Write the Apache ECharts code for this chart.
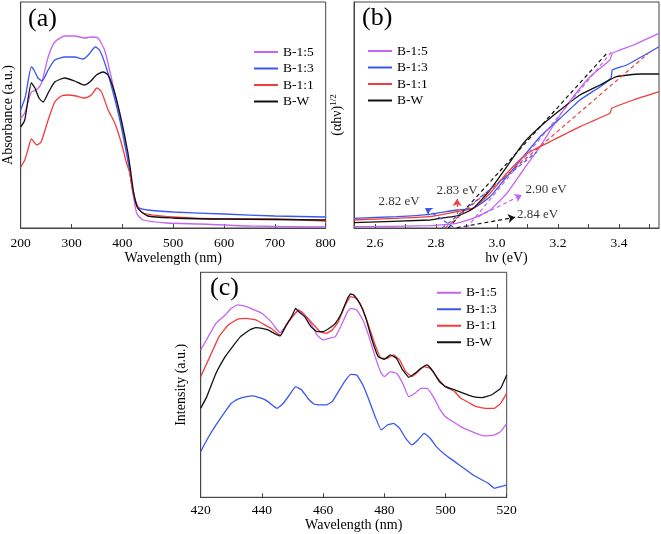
<!DOCTYPE html>
<html><head><meta charset="utf-8">
<script src="https://cdn.jsdelivr.net/npm/echarts@6/dist/echarts.min.js"></script>
<style>html,body{margin:0;padding:0;background:#fff}#c{width:661px;height:534px}</style>
</head><body><div id="c"></div>
<script>
const names = ['B-1:5', 'B-1:3', 'B-1:1', 'B-W'];
const colors = ['#c464f2', '#3a58f0', '#f23c3c', '#111111'];

// (a) Absorbance vs wavelength (nm)
const absB15 = [[200,1.10],[208,1.15],[221,1.36],[231,1.38],[241,1.45],[254,1.71],[267,1.86],[287,1.92],[306,1.92],[326,1.90],[339,1.91],[352,1.90],[365,1.78],[378,1.51],[391,1.21],[405,0.88],[414,0.58],[418,0.45],[428,0.15],[441,0.08],[487,0.05],[553,0.04],[651,0.02],[800,0.01]];
const absB13 = [[200,1.18],[209,1.31],[221,1.61],[226,1.58],[234,1.50],[242,1.47],[254,1.58],[267,1.68],[287,1.71],[306,1.71],[323,1.69],[333,1.73],[347,1.81],[355,1.78],[368,1.61],[382,1.35],[395,1.08],[408,0.75],[414,0.58],[421,0.36],[430,0.21],[450,0.18],[500,0.16],[600,0.14],[700,0.12],[800,0.11]];
const absB11 = [[200,0.61],[208,0.68],[214,0.78],[221,0.89],[226,0.86],[232,0.83],[240,0.86],[254,1.08],[267,1.26],[280,1.32],[293,1.33],[309,1.32],[326,1.30],[339,1.33],[350,1.40],[359,1.36],[372,1.18],[385,1.05],[398,0.85],[408,0.65],[414.5,0.55],[421,0.35],[430,0.22],[440,0.15],[500,0.11],[600,0.09],[700,0.09],[800,0.07]];
const absBW = [[200,1.01],[208,1.08],[221,1.45],[228,1.40],[236,1.30],[244,1.26],[254,1.35],[267,1.46],[287,1.50],[306,1.47],[325,1.43],[336,1.46],[349,1.53],[362,1.56],[372,1.53],[385,1.35],[398,1.08],[411,0.75],[416,0.58],[422,0.36],[430,0.20],[450,0.12],[500,0.10],[600,0.09],[800,0.08]];

// (b) (αhν)^1/2 vs hν (eV)
const tB15 = [[2.531,1.3],[2.78,2.3],[2.868,4.7],[2.922,9.7],[2.977,18],[3.032,34.7],[3.086,58],[3.141,81.3],[3.196,108],[3.25,131.3],[3.305,151.3],[3.37,168],[3.378,174.7],[3.447,183],[3.531,194.7]];
const tB13 = [[2.531,9.7],[2.671,11.3],[2.78,13.7],[2.868,18],[2.922,19.7],[2.977,31.3],[3.032,51.3],[3.086,71.3],[3.141,91.3],[3.207,109.7],[3.272,128],[3.338,141.3],[3.374,150],[3.378,158],[3.425,163],[3.531,181.3]];
const tB11 = [[2.531,8],[2.78,11.3],[2.868,16.3],[2.922,19.7],[2.977,34.7],[3.032,54.7],[3.086,71.3],[3.119,78],[3.185,88],[3.272,101.3],[3.37,114.7],[3.376,119.7],[3.447,128],[3.531,136.3]];
const tBW = [[2.531,5.3],[2.78,8],[2.813,9.7],[2.855,11.3],[2.879,13],[2.922,19.7],[2.977,38],[3.032,61.3],[3.086,84.7],[3.141,101.3],[3.207,118],[3.272,133],[3.338,143],[3.392,151.3],[3.469,154],[3.531,154]];
// tangent (dashed) lines: intercept and upper end
const fitB15 = [[2.90,0],[3.376,176.3]];
const fitB13 = [[2.82,0],[3.13,76]];
const fitB11 = [[2.83,0],[3.496,174.7]];
const fitBW = [[2.84,0],[3.36,174.7]];
// annotation arrows [from, to] and labels
const arrowB13 = [[2.856,1],[2.764,20]];
const arrowB11 = [[2.869,14],[2.869,29]];
const arrowB15 = [[2.938,11.3],[3.081,33]];
const arrowBW = [[2.868,0.3],[3.059,10.7]];
const gapLabels = [[2.679,26.5,'2.82 eV'],[2.869,37.5,'2.83 eV'],[3.161,38,'2.90 eV'],[3.133,13,'2.84 eV']];

// (c) PL intensity vs wavelength (nm)
const plB15 = [[420,442],[425,522],[428,547],[430,567],[432,577],[435,572],[437,564],[440,552],[443,527],[445,502],[446,494],[448,517],[450,542],[452,560],[454,547],[456,522],[458,487],[460,472],[462,477],[464,482],[466,517],[468,557],[469,567],[471,562],[473,532],[475,482],[477,422],[479,372],[480,362],[482,377],[484,372],[486,342],[488,302],[490,312],[492,327],[494,327],[496,302],[498,267],[500,242],[505,212],[510,192],[513,184],[516,187],[518,197],[520,222]];
const plB13 = [[420,137],[422,172],[425,217],[428,257],[430,282],[432,294],[435,302],[437,304],[440,297],[442,287],[444,272],[445,267],[447,282],[449,307],[451,332],[453,322],[455,297],[457,280],[459,277],[461,277],[463,287],[465,317],[467,347],[469,369],[471,367],[473,337],[475,292],[477,242],[479,202],[481,217],[483,222],[485,207],[487,177],[489,157],[491,172],[493,192],[495,177],[497,152],[500,127],[503,107],[506,87],[509,67],[512,52],[514,42],[516,27],[518,32],[520,37]];
const plB11 = [[420,362],[423,422],[426,482],[429,517],[432,534],[435,537],[438,532],[440,522],[443,507],[445,492],[446,487],[448,517],[450,542],[452,562],[453,557],[455,537],[457,517],[459,497],[461,492],[463,502],[465,527],[467,572],[469,602],[471,597],[473,562],[475,512],[477,457],[479,417],[481,417],[483,427],[485,412],[487,377],[489,362],[491,377],[493,392],[495,387],[497,362],[500,332],[503,317],[505,297],[508,282],[510,272],[513,267],[516,267],[518,282],[520,312]];
const plBW = [[420,267],[422,302],[425,372],[428,422],[430,447],[433,482],[436,502],[438,509],[440,507],[442,502],[444,492],[446,484],[448,517],[450,547],[451,567],[452,557],[454,542],[456,512],[458,497],[460,497],[462,507],[464,522],[466,552],[468,597],[469,610],[470,607],[472,582],[474,537],[476,472],[478,422],[480,414],[482,427],[484,417],[486,382],[488,360],[490,372],[492,387],[494,397],[496,377],[498,347],[500,332],[503,322],[506,312],[509,302],[512,299],[515,307],[518,327],[520,367]];

const FONT = 'Liberation Serif';
const axisCol = '#444';

function xAx(idx, min, max, interval, name, nameGap, extra) {
  return Object.assign({
    type: 'value', gridIndex: idx, min: min, max: max, interval: interval,
    name: name, nameLocation: 'middle', nameGap: nameGap,
    nameTextStyle: { fontFamily: FONT, fontSize: 14, color: '#000' },
    axisLine: { show: true, lineStyle: { color: axisCol, width: 1 } },
    axisTick: { show: true, inside: true, length: 4, lineStyle: { color: axisCol } },
    axisLabel: { fontFamily: FONT, fontSize: 13.5, color: '#000', margin: 8 },
    splitLine: { show: false }
  }, extra || {});
}
function yAx(idx, max, name, nameGap) {
  return {
    type: 'value', gridIndex: idx, min: 0, max: max,
    name: name, nameLocation: 'middle', nameGap: nameGap, nameRotate: 90,
    nameTextStyle: { fontFamily: FONT, fontSize: 14, color: '#000',
      rich: { sup: { fontFamily: FONT, fontSize: 9, color: '#000', padding: [0, 0, 7, 0] },
              base: { fontFamily: FONT, fontSize: 14, color: '#000' } } },
    axisLine: { show: true, lineStyle: { color: axisCol, width: 1 } },
    axisTick: { show: false }, axisLabel: { show: false }, splitLine: { show: false }
  };
}
function lineSeries(name, color, data, xi, smooth) {
  return { type: 'line', name: name, data: data, xAxisIndex: xi, yAxisIndex: xi,
    showSymbol: false, symbol: 'none', smooth: smooth,
    lineStyle: { color: color, width: 1.3 },
    itemStyle: { color: color }, silent: true, z: 3 };
}
function dashSeries(color, data) {
  return { type: 'line', data: data, xAxisIndex: 1, yAxisIndex: 1, showSymbol: false, symbol: 'none',
    lineStyle: { color: color, width: 1.2, type: [4, 3] }, silent: true, z: 4 };
}
function arrow(color, pts) {
  return [{ coord: pts[0], lineStyle: { color: color, type: [4, 3], width: 1.2 }, symbol: 'none' },
          { coord: pts[1], symbol: 'arrow' }];
}
function legend(left, top) {
  return { data: names, orient: 'vertical', left: left, top: top, icon: 'rect',
    itemWidth: 24, itemHeight: 2, itemGap: 0, selectedMode: false,
    textStyle: { fontFamily: FONT, fontSize: 13.5, color: '#000', lineHeight: 16.5 } };
}

const series = [];
[absB15, absB13, absB11, absBW].forEach((d, i) => series.push(lineSeries(names[i], colors[i], d, 0, 0.2)));
[tB15, tB13, tB11, tBW].forEach((d, i) => series.push(lineSeries(names[i], colors[i], d, 1, 0.15)));
[plB15, plB13, plB11, plBW].forEach((d, i) => series.push(lineSeries(names[i], colors[i], d, 2, 0.1)));
series.push(dashSeries(colors[3], fitBW));
series.push(dashSeries(colors[0], fitB15));
series.push(dashSeries(colors[2], fitB11));
series.push(dashSeries(colors[1], fitB13));
series.push({
  type: 'line', data: [], xAxisIndex: 1, yAxisIndex: 1, silent: true, z: 5,
  markLine: { silent: true, animation: false, symbolSize: [7, 7], label: { show: false },
    data: [arrow(colors[1], arrowB13), arrow(colors[2], arrowB11), arrow(colors[0], arrowB15), arrow(colors[3], arrowBW)] }
});
series.push({
  type: 'scatter', xAxisIndex: 1, yAxisIndex: 1, silent: true, symbolSize: 1,
  itemStyle: { color: 'rgba(0,0,0,0)' },
  data: gapLabels.map(g => ({ value: [g[0], g[1]], name: g[2] })),
  label: { show: true, position: 'inside', formatter: p => p.name,
    fontFamily: FONT, fontSize: 13, color: '#000' }, z: 6
});

const gridBase = { show: true, borderColor: axisCol, borderWidth: 1, backgroundColor: 'transparent', containLabel: false };
const option = {
  animation: false,
  backgroundColor: '#fff',
  grid: [
    Object.assign({ left: 20.7, top: 2, width: 305, height: 226 }, gridBase),
    Object.assign({ left: 354, top: 2, width: 305, height: 226 }, gridBase),
    Object.assign({ left: 200.7, top: 272.3, width: 306, height: 225 }, gridBase)
  ],
  xAxis: [
    xAx(0, 200, 800, 100, 'Wavelength (nm)', 23),
    xAx(1, 2.531, 3.531, null, 'hν (eV)', 22, {
      axisLabel: { fontFamily: FONT, fontSize: 13.5, color: '#000', margin: 8,
        customValues: [2.6, 2.8, 3.0, 3.2, 3.4], formatter: v => v.toFixed(1) },
      axisTick: { show: true, inside: true, length: 4, lineStyle: { color: axisCol },
        customValues: [2.6, 2.7, 2.8, 2.9, 3.0, 3.1, 3.2, 3.3, 3.4, 3.5] }
    }),
    xAx(2, 420, 520, 20, 'Wavelength (nm)', 21, {
      axisLabel: { fontFamily: FONT, fontSize: 13.5, color: '#000', margin: 6 } })
  ],
  yAxis: [
    yAx(0, 2.26, 'Absorbance (a.u.)', 5.5),
    yAx(1, 226, '{base|(αhν)}{sup|1/2}', 9),
    yAx(2, 675, 'Intensity (a.u.)', 12)
  ],
  legend: [legend(249, 38.75), legend(363, 37.75), legend(432, 279.5)],
  graphic: [
    { type: 'text', left: 28, top: 6, style: { text: '(a)', font: '26px "Liberation Serif"', fill: '#000' } },
    { type: 'text', left: 362, top: 5, style: { text: '(b)', font: '26px "Liberation Serif"', fill: '#000' } },
    { type: 'text', left: 210, top: 275, style: { text: '(c)', font: '26px "Liberation Serif"', fill: '#000' } }
  ],
  series: series
};
const chart = echarts.init(document.getElementById('c'), null, { renderer: 'canvas' });
chart.setOption(option);
</script></body></html>
